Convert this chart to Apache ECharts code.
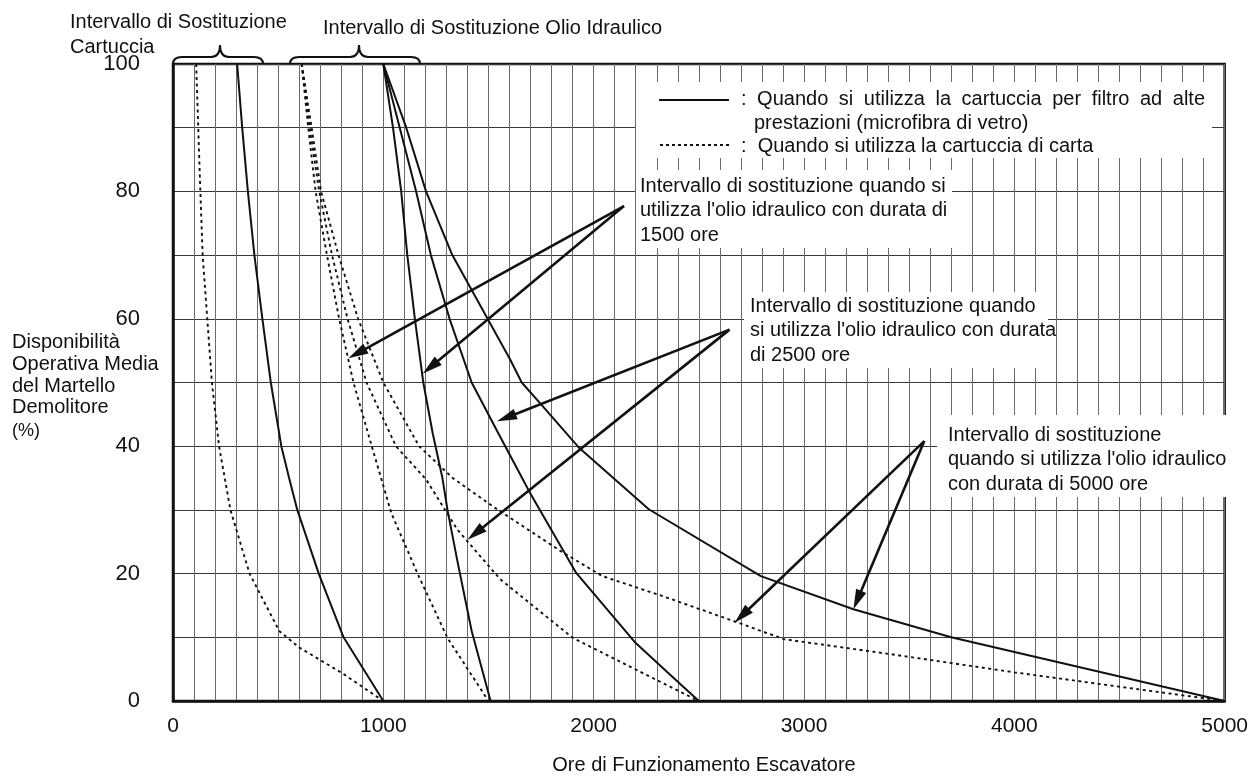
<!DOCTYPE html>
<html><head><meta charset="utf-8">
<script src="https://cdn.jsdelivr.net/npm/echarts/dist/echarts.min.js"></script>
<style>html,body{margin:0;padding:0;background:#fff}#c{width:1251px;height:777px}</style>
</head><body><div id="c"></div>
<script>
// ---- data (hours of excavator operation vs. breaker availability %) ----
const xTickLabels = [0, 1000, 2000, 3000, 4000, 5000];
const yTickLabels = [0, 20, 40, 60, 80, 100];

const cartPaperHours = [110, 130, 141, 163, 185, 219, 273, 364, 505, 600, 803, 1000];
const cartPaperAvail = [100, 80, 70, 60, 50, 40, 30, 20, 11, 8.4, 4.4, 0];
const cartGlassHours = [305, 329, 356, 387, 425, 465, 515, 552, 591, 693, 811, 1000];
const cartGlassAvail = [100, 90, 80, 70, 60, 50, 40, 35, 30, 20, 10, 0];

const oil1500GlassHours = [1000, 1046, 1085, 1114, 1150, 1190, 1235, 1281, 1305, 1352, 1420, 1510];
const oil1500GlassAvail = [100, 90, 80, 70, 60, 50, 42, 35, 30, 22, 11, 0];
const oil2500GlassHours = [1000, 1078, 1156, 1226, 1315, 1420, 1541, 1697, 1917, 2200, 2387, 2500];
const oil2500GlassAvail = [100, 90, 80, 70, 60, 50, 42.4, 32.7, 20.1, 9.1, 3.4, 0];
const oil5000GlassHours = [1000, 1109, 1203, 1328, 1603, 1658, 1744, 1932, 2262, 2795, 3235, 3700, 5000];
const oil5000GlassAvail = [100, 90, 80, 70, 53.6, 50, 46.8, 39.7, 30.1, 19.6, 14.4, 10, 0];

const oil1500PaperHours = [612, 643, 678, 732, 790, 858, 945, 991, 1038, 1164, 1305, 1500];
const oil1500PaperAvail = [100, 90, 80, 70, 60, 50, 40, 34.8, 29.5, 19.9, 9.9, 0];
const oil2500PaperHours = [612, 650, 695, 756, 830, 920, 1060, 1203, 1352, 1556, 1901, 2293, 2500];
const oil2500PaperAvail = [100, 90, 80, 70, 60, 50, 40, 34.8, 26.9, 19.1, 9.9, 3.4, 0];
const oil5000PaperHours = [612, 659, 704, 787, 880, 1000, 1170, 1330, 1541, 1854, 2042, 2325, 2670, 2905, 3423, 4000, 5000];
const oil5000PaperAvail = [100, 90, 80, 70, 60, 50, 40, 35, 30.1, 23.3, 19.6, 16.5, 12.5, 9.7, 7.3, 4.5, 0];

// annotation arrows: [fromHours, fromAvail, toHours, toAvail]
const arrowFromHours = [2144, 2144, 2646, 2646, 3572, 3572];
const arrowFromAvail = [77.7, 77.7, 58.3, 58.3, 40.8, 40.8];
const arrowToHours = [834, 1188, 1541, 1400, 2670, 3235];
const arrowToAvail = [53.8, 51.4, 43.9, 25.3, 12.3, 14.4];

// ---- build ----
const FONT = '"Liberation Sans", Arial, sans-serif';
const INK = '#111';
function pairs(xs, ys) { return xs.map((x, i) => [x, ys[i]]); }
function curve(name, xs, ys, dotted) {
  return {
    name: name, type: 'line', data: pairs(xs, ys), symbol: 'none', smooth: false, z: 3,
    lineStyle: dotted ? { color: INK, width: 1.9, type: [3, 3.5] } : { color: INK, width: 2 }
  };
}
const arrows = arrowFromHours.map((h, i) => [h, arrowFromAvail[i], arrowToHours[i], arrowToAvail[i]]);

function renderArrow(params, api) {
  const p1 = api.coord([api.value(0), api.value(1)]);
  const p2 = api.coord([api.value(2), api.value(3)]);
  const dx = p2[0] - p1[0], dy = p2[1] - p1[1];
  const len = Math.hypot(dx, dy);
  const ux = dx / len, uy = dy / len;
  const L = 20, W = 5.5;
  const bx = p2[0] - ux * L, by = p2[1] - uy * L;
  return {
    type: 'group', children: [
      { type: 'line', shape: { x1: p1[0], y1: p1[1], x2: bx + ux * 2, y2: by + uy * 2 }, style: { stroke: INK, lineWidth: 2.6 } },
      { type: 'polygon', shape: { points: [[p2[0], p2[1]], [bx - uy * W, by + ux * W], [bx + uy * W, by - ux * W]] }, style: { fill: INK } }
    ]
  };
}

function txt(x, y, text, size, extra) {
  return {
    type: 'text', x: x, y: y, z: 10,
    style: Object.assign({ text: text, fill: INK, font: size + 'px ' + FONT, textVerticalAlign: 'middle' }, extra || {})
  };
}
function box(x0, y0, x1, y1) {
  return { type: 'rect', z: 1, shape: { x: x0, y: y0, width: x1 - x0, height: y1 - y0 }, style: { fill: '#fff' } };
}
function brace(xL, xR, xT) {
  const yE = 64, yM = 57, yT = 45, r = 9;
  const st = { stroke: INK, lineWidth: 2, fill: null };
  return [
    { type: 'bezierCurve', z: 10, shape: { x1: xL, y1: yE, x2: xL + r, y2: yM, cpx1: xL, cpy1: yM }, style: st },
    { type: 'line', z: 10, shape: { x1: xL + r, y1: yM, x2: xT - r, y2: yM }, style: st },
    { type: 'bezierCurve', z: 10, shape: { x1: xT - r, y1: yM, x2: xT, y2: yT, cpx1: xT, cpy1: yM }, style: st },
    { type: 'bezierCurve', z: 10, shape: { x1: xT, y1: yT, x2: xT + r, y2: yM, cpx1: xT, cpy1: yM }, style: st },
    { type: 'line', z: 10, shape: { x1: xT + r, y1: yM, x2: xR - r, y2: yM }, style: st },
    { type: 'bezierCurve', z: 10, shape: { x1: xR - r, y1: yM, x2: xR, y2: yE, cpx1: xR, cpy1: yM }, style: st }
  ];
}
// justify words of a line between two x positions
function justified(words, x0, x1, y, size) {
  const c = document.createElement('canvas').getContext('2d');
  c.font = size + 'px ' + FONT;
  const ws = words.map(w => c.measureText(w).width);
  const total = ws.reduce((a, b) => a + b, 0);
  const gap = (x1 - x0 - total) / (words.length - 1);
  let x = x0;
  return words.map((w, i) => { const el = txt(x, y, w, size); x += ws[i] + gap; return el; });
}

const graphics = [].concat(
  [box(636, 82, 1212, 158), box(636, 170, 952, 248), box(744, 292, 1048, 368), box(937, 415, 1227, 497)],
  brace(173, 263, 220), brace(290, 420, 359),
  [
    txt(70, 22, 'Intervallo di Sostituzione', 20),
    txt(70, 47, 'Cartuccia', 20),
    txt(323, 28, 'Intervallo di Sostituzione Olio Idraulico', 20),
    { type: 'line', z: 10, shape: { x1: 659, y1: 100, x2: 729, y2: 100 }, style: { stroke: INK, lineWidth: 2 } },
    { type: 'line', z: 10, shape: { x1: 660, y1: 145, x2: 729, y2: 145 }, style: { stroke: INK, lineWidth: 1.8, lineDash: [3, 3] } }
  ],
  justified([':', 'Quando', 'si', 'utilizza', 'la', 'cartuccia', 'per', 'filtro', 'ad', 'alte'], 741, 1205, 99, 20),
  [
    txt(754, 123, 'prestazioni (microfibra di vetro)', 20),
    txt(741, 146, ':  Quando si utilizza la cartuccia di carta', 20),
    txt(640, 174, "Intervallo di sostituzione quando si\nutilizza l'olio idraulico con durata di\n1500 ore", 20, { textVerticalAlign: 'top', lineHeight: 24.5 }),
    txt(750, 294, "Intervallo di sostituzione quando\nsi utilizza l'olio idraulico con durata\ndi 2500 ore", 20, { textVerticalAlign: 'top', lineHeight: 24.5 }),
    txt(948, 423, "Intervallo di sostituzione\nquando si utilizza l'olio idraulico\ncon durata di 5000 ore", 20, { textVerticalAlign: 'top', lineHeight: 24.5 }),
    txt(12, 332, 'Disponibilità\nOperativa Media\ndel Martello\nDemolitore', 20, { textVerticalAlign: 'top', lineHeight: 21.7 }),
    txt(12, 431, '(%)', 18),
    txt(704, 765, 'Ore di Funzionamento Escavatore', 20, { textAlign: 'center' })
  ]
);

const chart = echarts.init(document.getElementById('c'), null, { renderer: 'canvas' });
chart.setOption({
  animation: false,
  backgroundColor: '#fff',
  grid: { left: 173, right: 16, top: 64, bottom: 76, show: true, borderColor: INK, borderWidth: 2.5, backgroundColor: 'transparent' },
  xAxis: {
    type: 'value', min: 0, max: 5000, interval: 100,
    axisLine: { show: true, onZero: false, lineStyle: { color: INK, width: 2.5 } },
    axisTick: { show: false },
    axisLabel: { color: INK, fontSize: 21, fontFamily: FONT, margin: 15, formatter: v => xTickLabels.includes(v) ? String(v) : '' },
    splitLine: { show: true, lineStyle: { color: '#6a6a6a', width: 1 } }
  },
  yAxis: {
    type: 'value', min: 0, max: 100, interval: 10,
    axisLine: { show: true, onZero: false, lineStyle: { color: INK, width: 2.5 } },
    axisTick: { show: false },
    axisLabel: { color: INK, fontSize: 22, fontFamily: FONT, margin: 33, formatter: v => yTickLabels.includes(v) ? String(v) : '' },
    splitLine: { show: true, lineStyle: { color: '#3a3a3a', width: 1 } }
  },
  series: [
    curve('cartPaper', cartPaperHours, cartPaperAvail, true),
    curve('cartGlass', cartGlassHours, cartGlassAvail, false),
    curve('oil1500Glass', oil1500GlassHours, oil1500GlassAvail, false),
    curve('oil2500Glass', oil2500GlassHours, oil2500GlassAvail, false),
    curve('oil5000Glass', oil5000GlassHours, oil5000GlassAvail, false),
    curve('oil1500Paper', oil1500PaperHours, oil1500PaperAvail, true),
    curve('oil2500Paper', oil2500PaperHours, oil2500PaperAvail, true),
    curve('oil5000Paper', oil5000PaperHours, oil5000PaperAvail, true),
    { type: 'custom', name: 'arrows', renderItem: renderArrow, data: arrows, encode: { x: [0, 2], y: [1, 3] }, z: 12, clip: false }
  ],
  graphic: { elements: graphics }
});
</script></body></html>
